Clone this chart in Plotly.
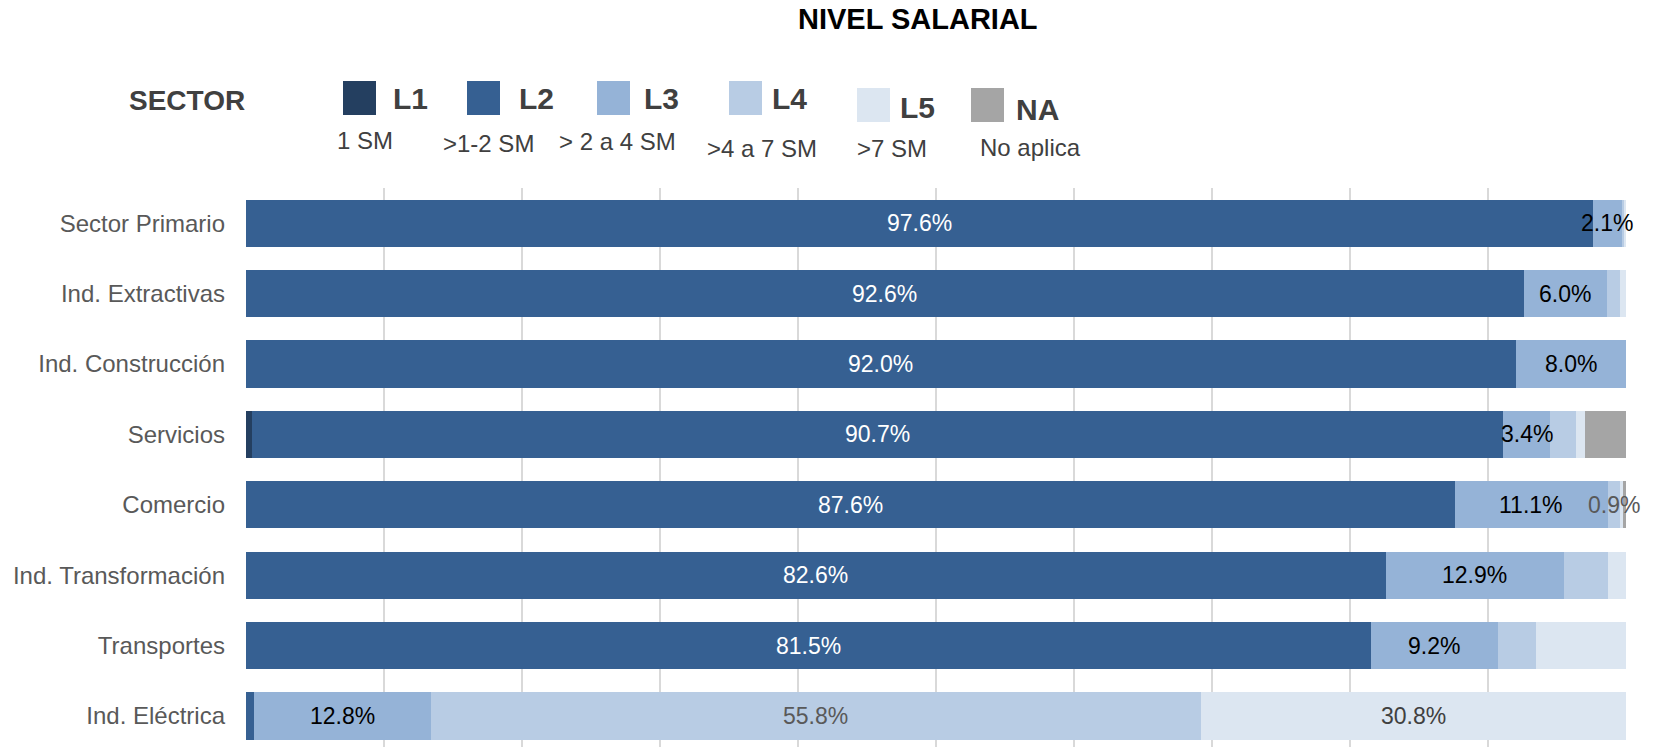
import plotly.graph_objects as go

sectors = ["Sector Primario", "Ind. Extractivas", "Ind. Construcción", "Servicios",
           "Comercio", "Ind. Transformación", "Transportes", "Ind. Eléctrica"]

L1 = [0.0, 0.0, 0.0, 0.4, 0.0, 0.0, 0.0, 0.0]
L2 = [97.6, 92.6, 92.0, 90.7, 87.6, 82.6, 81.5, 0.6]
L3 = [2.1, 6.0, 8.0, 3.4, 11.1, 12.9, 9.2, 12.8]
L4 = [0.2, 1.0, 0.0, 1.9, 0.9, 3.2, 2.8, 55.8]
L5 = [0.1, 0.4, 0.0, 0.6, 0.2, 1.3, 6.5, 30.8]
NA = [0.0, 0.0, 0.0, 3.0, 0.2, 0.0, 0.0, 0.0]

# which segments carry a data label
show_L2 = [1, 1, 1, 1, 1, 1, 1, 0]
show_L3 = [1, 1, 1, 1, 1, 1, 1, 1]
show_L4 = [0, 0, 0, 0, 1, 0, 0, 1]
show_L5 = [0, 0, 0, 0, 0, 0, 0, 1]

series_names = ["L1", "L2", "L3", "L4", "L5", "NA"]
series_sub = ["1 SM", ">1-2 SM", "> 2 a 4 SM", ">4 a 7 SM", ">7 SM", "No aplica"]
series_vals = [L1, L2, L3, L4, L5, NA]
series_show = [None, show_L2, show_L3, show_L4, show_L5, None]
colors = ["#243F60", "#366092", "#95B3D7", "#B8CCE4", "#DCE6F1", "#A5A5A5"]
label_colors = [None, "#FFFFFF", "#000000", "#595959", "#404040", None]

FONT = "Liberation Sans, Arial, sans-serif"
W, H = 1656, 747
L_M, R_M, T_M, B_M = 246, 30, 188, 0
PW, PH = W - L_M - R_M, H - T_M - B_M


def px(x):
    return (x - L_M) / PW


def py(y):
    return (H - B_M - y) / PH


fig = go.Figure()
for name, vals, col in zip(series_names, series_vals, colors):
    fig.add_trace(go.Bar(
        y=sectors, x=vals, orientation="h", name=name,
        marker=dict(color=col, line=dict(width=0)),
        showlegend=False, hoverinfo="x+y+name",
    ))

annotations = []
# data labels centred on their segments
cum = [0.0] * len(sectors)
for vals, show, lc in zip(series_vals, series_show, label_colors):
    for i, v in enumerate(vals):
        if show is not None and show[i]:
            annotations.append(dict(
                x=cum[i] + v / 2, y=sectors[i], xref="x", yref="y",
                text=f"{v:.1f}%", showarrow=False,
                font=dict(family=FONT, size=23, color=lc),
                xanchor="center", yanchor="middle",
            ))
    cum = [c + v for c, v in zip(cum, vals)]

# title
annotations.append(dict(
    x=px(918), y=py(19), xref="paper", yref="paper", text="<b>NIVEL SALARIAL</b>",
    showarrow=False, font=dict(family=FONT, size=29, color="#000000"),
    xanchor="center", yanchor="middle"))
annotations.append(dict(
    x=px(187), y=py(101), xref="paper", yref="paper", text="<b>SECTOR</b>",
    showarrow=False, font=dict(family=FONT, size=28, color="#404040"),
    xanchor="center", yanchor="middle"))

# custom legend
boxes = [  # box x0, box y0, label centre x, label y, sub centre x, sub y
    (343, 81, 410, 98, 365, 140),
    (467, 81, 536, 98, 488, 144),
    (597, 81, 661, 99, 617, 141),
    (729, 81, 789, 99, 762, 148),
    (857, 88, 917, 108, 892, 148),
    (971, 88, 1037, 109, 1030, 147),
]
shapes = []
for (bx, by, lx, ly, sx, sy), name, sub, col in zip(boxes, series_names, series_sub, colors):
    shapes.append(dict(type="rect", xref="paper", yref="paper",
                       x0=px(bx), x1=px(bx + 33), y0=py(by + 34), y1=py(by),
                       fillcolor=col, line=dict(width=0)))
    annotations.append(dict(
        x=px(lx), y=py(ly), xref="paper", yref="paper", text=f"<b>{name}</b>",
        showarrow=False, font=dict(family=FONT, size=30, color="#404040"),
        xanchor="center", yanchor="middle"))
    annotations.append(dict(
        x=px(sx), y=py(sy), xref="paper", yref="paper", text=sub,
        showarrow=False, font=dict(family=FONT, size=24, color="#404040"),
        xanchor="center", yanchor="middle"))

fig.update_layout(
    width=W, height=H,
    barmode="stack", bargap=0.33,
    plot_bgcolor="#FFFFFF", paper_bgcolor="#FFFFFF",
    margin=dict(l=L_M, r=R_M, t=T_M, b=B_M, pad=0),
    annotations=annotations, shapes=shapes,
    font=dict(family=FONT),
    xaxis=dict(range=[0, 100], dtick=10, showgrid=True, gridcolor="#D9D9D9", gridwidth=2,
               zeroline=False, showticklabels=False, showline=False, fixedrange=True),
    yaxis=dict(categoryorder="array", categoryarray=sectors, range=[7.44, -0.5],
               showgrid=False, zeroline=False, showline=False,
               tickfont=dict(family=FONT, size=24, color="#595959"),
               ticks="", ticklabelstandoff=20),
)

fig.write_html("out.html", config={"displayModeBar": False},
               post_script="document.body.style.margin='0';document.body.style.overflow='hidden';")
